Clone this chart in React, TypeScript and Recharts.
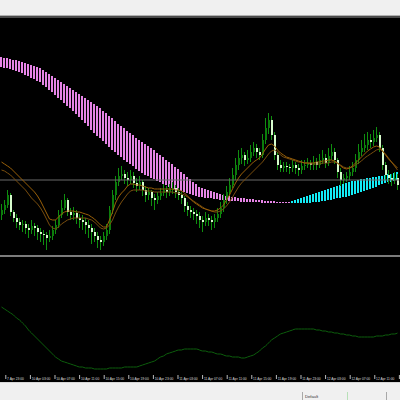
import React from 'react';
import { ComposedChart, LineChart, BarChart, Line, Bar, XAxis, YAxis, ReferenceLine } from 'recharts';

// M30 candles (price units, arbitrary points)
const OPEN = [
  85, 90, 95, 105, 88, 82, 78, 75, 76, 72,
  70, 74, 72, 68, 66, 65, 62, 64, 70, 75,
  85, 92, 100, 88, 85, 87, 82, 80, 78, 75,
  72, 68, 64, 60, 58, 64, 70, 90, 105, 118,
  124, 126, 122, 120, 124, 117, 114, 118, 110, 105,
  108, 102, 100, 104, 107, 110, 108, 111, 112, 108,
  105, 102, 94, 90, 88, 86, 84, 80, 78, 82,
  80, 78, 82, 86, 92, 100, 108, 115, 125, 135,
  142, 145, 140, 142, 148, 152, 148, 145, 160, 172,
  180, 165, 145, 135, 132, 134, 133, 132, 135, 132,
  130, 134, 135, 137, 135, 138, 135, 140, 142, 137,
  144, 148, 140, 128, 120, 122, 124, 128, 132, 140,
  148, 152, 155, 160, 158, 162, 165, 152, 135, 125,
  122, 120, 122,
];
const CLOSE = [
  90, 95, 105, 88, 82, 78, 75, 76, 72, 70,
  74, 72, 68, 66, 65, 62, 64, 70, 75, 85,
  92, 100, 88, 85, 87, 82, 80, 78, 75, 72,
  68, 64, 60, 58, 64, 70, 90, 105, 118, 124,
  126, 122, 120, 124, 117, 114, 118, 110, 105, 108,
  102, 100, 104, 107, 110, 108, 111, 112, 108, 105,
  102, 94, 90, 88, 86, 84, 80, 78, 82, 80,
  78, 82, 86, 92, 100, 108, 115, 125, 135, 142,
  145, 140, 142, 148, 152, 148, 145, 160, 172, 180,
  165, 145, 135, 132, 134, 133, 132, 135, 132, 130,
  134, 135, 137, 135, 138, 135, 140, 142, 137, 144,
  148, 140, 128, 120, 122, 124, 128, 132, 140, 148,
  152, 155, 160, 158, 162, 165, 152, 135, 125, 122,
  120, 122, 115,
];
const HIGH = [
  96, 100, 110, 107, 90, 86, 82, 80, 79, 76,
  80, 77, 75, 72, 70, 68, 70, 74, 80, 90,
  100, 106, 102, 92, 93, 90, 86, 85, 82, 80,
  76, 72, 68, 64, 68, 76, 94, 110, 124, 132,
  134, 130, 128, 130, 128, 122, 124, 120, 114, 112,
  110, 106, 108, 112, 116, 114, 116, 118, 115, 112,
  108, 104, 98, 94, 92, 90, 88, 84, 88, 86,
  84, 86, 92, 98, 106, 114, 122, 132, 142, 150,
  152, 148, 150, 155, 158, 156, 152, 166, 182, 187,
  184, 168, 148, 140, 138, 138, 136, 140, 138, 136,
  140, 140, 142, 140, 144, 142, 146, 150, 146, 152,
  156, 152, 142, 132, 126, 128, 134, 138, 146, 156,
  160, 166, 168, 166, 170, 173, 168, 155, 138, 130,
  126, 128, 126,
];
const LOW = [
  80, 86, 92, 84, 78, 72, 70, 68, 66, 62,
  66, 64, 60, 58, 55, 50, 58, 60, 66, 72,
  82, 90, 84, 80, 80, 76, 72, 70, 66, 62,
  56, 58, 52, 50, 54, 60, 66, 86, 100, 114,
  120, 116, 114, 116, 112, 108, 110, 104, 98, 100,
  94, 90, 96, 100, 104, 102, 104, 106, 102, 100,
  96, 88, 84, 82, 80, 76, 72, 68, 74, 74,
  70, 72, 78, 82, 88, 96, 104, 112, 120, 130,
  136, 134, 136, 138, 144, 142, 140, 142, 156, 166,
  160, 140, 130, 128, 128, 128, 126, 128, 126, 124,
  126, 130, 132, 130, 130, 130, 132, 136, 132, 134,
  140, 136, 122, 114, 116, 118, 120, 124, 128, 136,
  144, 148, 150, 152, 154, 158, 148, 130, 120, 116,
  114, 116, 110,
];

// moving averages
const MA_FAST = [
  138, 136, 134, 132, 129, 126, 123, 120, 117, 114,
  111, 108, 104, 99, 93, 87, 81, 80, 80, 83,
  86, 88, 89, 89, 89, 88, 88, 87, 86, 85,
  83, 81, 78, 75, 73, 73, 80, 88, 97, 103,
  107, 110, 114, 116, 116, 115, 115, 114, 113, 112,
  112, 111, 111, 111, 111, 111, 111, 111, 110, 110,
  109, 107, 104, 101, 98, 96, 94, 92, 91, 90,
  89, 89, 90, 92, 95, 100, 105, 111, 117, 122,
  126, 129, 132, 135, 138, 140, 142, 146, 151, 155,
  156, 154, 150, 147, 145, 143, 142, 141, 140, 139,
  138, 137, 137, 137, 137, 138, 138, 139, 139, 140,
  140, 139, 137, 134, 132, 131, 132, 134, 137, 140,
  143, 146, 149, 151, 153, 154, 153, 149, 145, 141,
  138, 135, 132,
];
const MA_SLOW = [
  130, 129, 127, 125, 122, 119, 116, 113, 110, 106,
  102, 99, 96, 92, 87, 81, 75, 72, 71, 73,
  76, 78, 80, 81, 82, 82, 82, 82, 82, 81,
  80, 78, 75, 72, 71, 72, 75, 80, 87, 93,
  98, 102, 106, 109, 110, 110, 110, 110, 109, 109,
  109, 108, 108, 108, 108, 108, 108, 108, 107, 107,
  106, 105, 103, 101, 99, 97, 95, 93, 91, 90,
  89, 88, 88, 89, 91, 94, 98, 103, 108, 113,
  117, 120, 123, 126, 129, 132, 135, 138, 142, 146,
  149, 150, 148, 145, 143, 142, 141, 140, 139, 138,
  138, 137, 137, 136, 136, 136, 136, 137, 137, 137,
  138, 138, 137, 135, 133, 132, 132, 133, 135, 137,
  139, 142, 144, 146, 148, 150, 151, 149, 146, 142,
  138, 134, 130,
];

// cloud spans
const SPAN_A = [
  233, 232, 232, 231, 230, 229, 228, 227, 225, 224,
  222, 221, 219, 218, 215, 213, 210, 208, 205, 202,
  200, 197, 194, 192, 189, 186, 183, 180, 177, 174,
  170, 167, 164, 162, 159, 156, 153, 150, 148, 145,
  143, 140, 138, 136, 134, 131, 129, 127, 125, 124,
  122, 121, 119, 118, 116, 115, 113, 112, 111, 110,
  109, 108, 107, 106, 105, 104, 103, 103, 102, 102,
  102, 101, 101, 100, 100, 100, 99, 99, 99, 99,
  98, 98, 98, 98, 98, 98, 98, 97, 97, 97,
  97, 97, 97, 97, 97, 97, 97, 99, 100, 101,
  102, 103, 104, 105, 106, 107, 108, 109, 110, 111,
  112, 113, 114, 115, 116, 117, 118, 119, 119, 120,
  121, 121, 122, 122, 123, 123, 124, 124, 125, 126,
  126, 127, 128,
];
const SPAN_B = [
  243, 242, 242, 241, 240, 240, 239, 238, 237, 236,
  235, 234, 233, 232, 230, 228, 226, 224, 222, 220,
  218, 216, 214, 212, 210, 208, 206, 204, 202, 200,
  198, 196, 194, 192, 189, 187, 184, 182, 179, 176,
  174, 172, 169, 167, 165, 162, 160, 158, 156, 154,
  152, 150, 147, 145, 143, 140, 138, 136, 133, 131,
  128, 126, 123, 121, 118, 116, 113, 112, 111, 110,
  109, 108, 107, 106, 105, 104, 104, 103, 103, 102,
  102, 102, 101, 101, 101, 100, 100, 100, 99, 99,
  99, 99, 98, 98, 98, 98, 98, 97, 97, 97,
  97, 97, 97, 97, 98, 98, 98, 99, 99, 100,
  100, 101, 102, 102, 103, 103, 104, 105, 106, 107,
  108, 109, 110, 111, 112, 113, 115, 116, 117, 118,
  118, 119, 120,
];

// lower indicator
const OSC = [
  66, 64, 62, 60, 58, 55, 53, 50, 47, 43,
  40, 37, 34, 31, 28, 25, 22, 19, 16, 14,
  12, 11, 10, 9, 8, 7, 6, 6, 5, 5,
  5, 4, 4, 4, 4, 4, 5, 5, 5, 5,
  5, 6, 6, 6, 6, 6, 7, 8, 9, 10,
  11, 12, 14, 16, 17, 19, 20, 21, 22, 23,
  23, 24, 24, 24, 24, 24, 23, 22, 22, 21,
  21, 20, 19, 19, 18, 17, 17, 16, 16, 16,
  15, 15, 16, 17, 18, 20, 22, 25, 27, 30,
  33, 35, 37, 39, 40, 41, 42, 43, 44, 44,
  44, 44, 44, 44, 44, 43, 43, 42, 42, 41,
  41, 40, 40, 39, 39, 38, 38, 37, 37, 36,
  36, 36, 36, 36, 36, 37, 37, 37, 38, 38,
  39, 39, 40,
];

const TIME_LABELS = [
  '7 Apr 23:00', '10 Apr 03:00', '10 Apr 07:00', '10 Apr 11:00', '10 Apr 15:00',
  '10 Apr 19:00', '10 Apr 23:00', '11 Apr 03:00', '11 Apr 07:00', '11 Apr 11:00',
  '11 Apr 15:00', '11 Apr 19:00', '11 Apr 23:00', '12 Apr 03:00', '12 Apr 07:00',
  '12 Apr 11:00', '12 Apr 15:00',
];

const PRICE_LINE = 120;

const bars = CLOSE.map((c, i) => ({
  i,
  o: OPEN[i],
  h: HIGH[i],
  l: LOW[i],
  c,
  fast: MA_FAST[i],
  slow: MA_SLOW[i],
  a: SPAN_A[i],
  b: SPAN_B[i],
  osc: OSC[i],
}));
const timeData = TIME_LABELS.map((t) => ({ t, v: 0 }));

const Candle = (props: any) => {
  const { x, y, width, height, payload } = props;
  if (x == null || y == null) return null;
  const top = Math.min(y, y + height);
  const hh = Math.abs(height);
  const { o, c, h: hi, l: lo } = payload;
  const k = hi - lo > 0 ? hh / (hi - lo) : 0;
  const cx = Math.floor(x + width / 2);
  const bTop = top + (hi - Math.max(o, c)) * k;
  const bH = Math.max(1, Math.abs(o - c) * k);
  const bull = c >= o;
  return (
    <g>
      <line x1={cx + 0.5} x2={cx + 0.5} y1={top} y2={top + hh} stroke="#0f8f0f" strokeWidth={1} />
      <rect x={cx} y={bTop} width={2} height={bH} fill={bull ? '#0b7d0b' : '#d6fbcc'} />
    </g>
  );
};

const CloudBar = (props: any) => {
  const { x, y, width, height, payload } = props;
  if (x == null || y == null) return null;
  const top = Math.min(y, y + height);
  const hh = Math.max(1, Math.abs(height));
  const cx = Math.floor(x + width / 2);
  const up = payload.a > payload.b;
  return <rect x={cx - 1} y={top} width={2} height={hh} fill={up ? '#12ecf6' : '#e684e6'} />;
};

const TimeTick = (props: any) => {
  const { x, y, payload } = props;
  return (
    <g>
      <line x1={x + 0.5} x2={x + 0.5} y1={y + 2} y2={y + 6} stroke="#bdbdbd" strokeWidth={1} />
      <text x={x + 1.8} y={y + 6.6} fontSize={3.3} fill="#dcdcdc" fontFamily="'Liberation Sans', Arial, sans-serif">
        {payload.value}
      </text>
    </g>
  );
};

export default function App() {
  const abs = (top: number, left = 0): React.CSSProperties => ({ position: 'absolute', top, left });
  return (
    <div style={{ position: 'absolute', left: 0, top: 0, width: 400, height: 400, overflow: 'hidden', background: '#000' }}>
      {/* top window bar */}
      <div style={{ ...abs(0), width: 400, height: 15, background: '#f0f0f0' }} />
      <div style={{ ...abs(15), width: 400, height: 1, background: '#b0b0b0' }} />
      <div style={{ ...abs(16), width: 400, height: 2, background: '#4a4a4a' }} />

      {/* main chart: cloud */}
      <div style={abs(18)}>
        <ComposedChart width={399} height={237} data={bars} margin={{ top: 0, right: 0, bottom: 0, left: 0 }}>
          <XAxis dataKey="i" type="category" hide />
          <YAxis type="number" domain={[45, 282]} hide allowDataOverflow />
          <Bar
            dataKey={(d: any) => [Math.min(d.a, d.b), Math.max(d.a, d.b)]}
            shape={<CloudBar />}
            isAnimationActive={false}
          />
        </ComposedChart>
      </div>
      {/* main chart: candles + MAs */}
      <div style={abs(18)}>
        <ComposedChart width={399} height={237} data={bars} margin={{ top: 0, right: 0, bottom: 0, left: 0 }}>
          <XAxis dataKey="i" type="category" hide />
          <YAxis type="number" domain={[45, 282]} hide allowDataOverflow />
          <ReferenceLine y={PRICE_LINE} stroke="#6a6a6a" strokeWidth={1} />
          <Bar dataKey={(d: any) => [d.l, d.h]} shape={<Candle />} isAnimationActive={false} />
          <Line dataKey="slow" type="linear" stroke="#7a4e0e" strokeWidth={1} dot={false} isAnimationActive={false} />
          <Line dataKey="fast" type="linear" stroke="#9a6008" strokeWidth={1} dot={false} isAnimationActive={false} />
        </ComposedChart>
      </div>

      {/* separator */}
      <div style={{ ...abs(255), width: 400, height: 2, background: '#7c7c7c' }} />

      {/* indicator */}
      <div style={abs(257)}>
        <LineChart width={399} height={116} data={bars} margin={{ top: 0, right: 0, bottom: 0, left: 0 }}>
          <XAxis dataKey="i" hide padding={{ left: 1.5, right: 1.5 }} />
          <YAxis type="number" domain={[0, 116]} hide />
          <Line dataKey="osc" type="monotone" stroke="#0c5e0c" strokeWidth={1} dot={false} isAnimationActive={false} />
        </LineChart>
      </div>

      {/* time axis */}
      <div style={abs(371, -7.3)}>
        <BarChart width={418.2} height={12} data={timeData} margin={{ top: 0, right: 0, bottom: 0, left: 0 }}>
          <XAxis
            dataKey="t"
            interval={0}
            axisLine={false}
            tickLine={false}
            tickSize={0}
            tickMargin={0}
            height={10}
            tick={<TimeTick />}
          />
          <YAxis hide domain={[0, 1]} />
          <Bar dataKey="v" fill="#000" isAnimationActive={false} />
        </BarChart>
      </div>

      {/* status bar */}
      <div style={{ ...abs(382), width: 400, height: 1, background: '#d8d8d8' }} />
      <div style={{ ...abs(383), width: 400, height: 17, background: '#f0f0f0' }} />
      <div style={{ ...abs(392, 302), width: 1, height: 8, background: '#a8a8a8' }} />
      <div style={{ ...abs(392, 347), width: 1, height: 8, background: '#b8e0b8' }} />
      <div style={{ ...abs(392, 386), width: 1, height: 8, background: '#a8a8a8' }} />
      <div
        style={{
          ...abs(393.5, 305),
          fontSize: 4.2,
          lineHeight: '5px',
          color: '#303030',
          fontFamily: "'Liberation Sans', Arial, sans-serif",
        }}
      >
        Default
      </div>
    </div>
  );
}
